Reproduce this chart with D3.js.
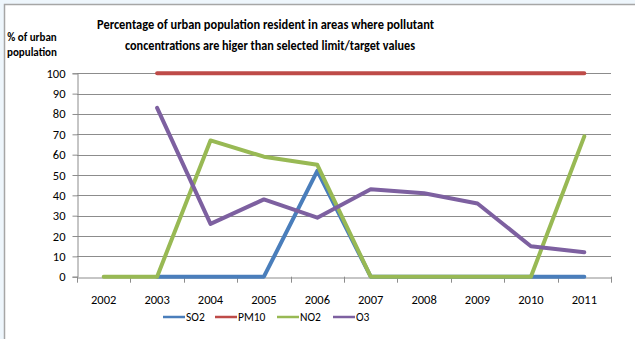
<!DOCTYPE html>
<html>
<head>
<meta charset="utf-8">
<script src="https://cdn.jsdelivr.net/npm/d3@7"></script>
<style>
  body { margin: 0; background: #eef6fc; }
  svg { display: block; }
</style>
</head>
<body>
<div id="chart"></div>
<script>
// chart data
const years = ['2002', '2003', '2004', '2005', '2006', '2007', '2008', '2009', '2010', '2011'];
const so2  = [null, 0, 0, 0, 52, 0, 0, 0, 0, 0];
const pm10 = [null, 100, 100, 100, 100, 100, 100, 100, 100, 100];
const no2  = [0, 0, 67, 59, 55, 0, 0, 0, 0, 69];
const o3   = [null, 83, 26, 38, 29, 43, 41, 36, 15, 12];
const yTicks = [0, 10, 20, 30, 40, 50, 60, 70, 80, 90, 100];

const series = [
  { name: 'SO2',  values: so2,  color: '#4a7ebb' },
  { name: 'PM10', values: pm10, color: '#be4b48' },
  { name: 'NO2',  values: no2,  color: '#98b954' },
  { name: 'O3',   values: o3,   color: '#7d60a0' }
];

const W = 635, H = 339;
const font = "Carlito, Calibri, 'Liberation Sans Narrow', 'Liberation Sans', sans-serif";

const svg = d3.select('#chart').append('svg')
  .attr('width', W)
  .attr('height', H);

// frame
svg.append('rect')
  .attr('x', 4.5).attr('y', 4.5)
  .attr('width', W).attr('height', H)
  .attr('fill', '#fff')
  .attr('stroke', '#a6a6a6')
  .attr('stroke-width', 1.5);

const plot = { left: 77, right: 611, top: 73.3, bottom: 276.7 };

const x = d3.scaleBand().domain(years).range([plot.left, plot.right]);
const y = d3.scaleLinear().domain([0, 100]).range([plot.bottom, plot.top]);

// gridlines
svg.append('g')
  .selectAll('line')
  .data(yTicks.filter(d => d > 0))
  .join('line')
  .attr('x1', plot.left).attr('x2', plot.right)
  .attr('y1', d => Math.round(y(d)) + 0.5).attr('y2', d => Math.round(y(d)) + 0.5)
  .attr('stroke', '#8c8c8c')
  .attr('stroke-width', 1);

// y axis
const yAxis = svg.append('g')
  .attr('transform', `translate(${plot.left + 0.5},0)`)
  .call(d3.axisLeft(y).tickValues(yTicks).tickSize(5).tickPadding(7));
yAxis.select('.domain').attr('stroke', '#8c8c8c');
yAxis.selectAll('.tick line').attr('stroke', '#8c8c8c');
yAxis.selectAll('text')
  .attr('font-family', font).attr('font-size', 12.5).attr('fill', '#000');

// x axis
const xAxis = svg.append('g')
  .attr('transform', `translate(0,${Math.round(plot.bottom) + 0.5})`)
  .call(d3.axisBottom(x).tickSize(0).tickPadding(18));
xAxis.select('.domain').attr('stroke', '#8c8c8c');
xAxis.selectAll('text')
  .attr('font-family', font).attr('font-size', 12.5).attr('fill', '#000');

// x tick marks at band edges
svg.append('g')
  .selectAll('line')
  .data(years.concat(['end']))
  .join('line')
  .attr('x1', (d, i) => Math.round(plot.left + i * x.bandwidth()) + 0.5)
  .attr('x2', (d, i) => Math.round(plot.left + i * x.bandwidth()) + 0.5)
  .attr('y1', plot.bottom)
  .attr('y2', plot.bottom + 6)
  .attr('stroke', '#8c8c8c');

// lines
const line = d3.line()
  .defined(d => d.v !== null)
  .x(d => x(d.year) + x.bandwidth() / 2)
  .y(d => y(d.v));

svg.append('g')
  .selectAll('path')
  .data(series)
  .join('path')
  .attr('d', s => line(years.map((yr, i) => ({ year: yr, v: s.values[i] }))))
  .attr('fill', 'none')
  .attr('stroke', s => s.color)
  .attr('stroke-width', 4)
  .attr('stroke-linejoin', 'round')
  .attr('stroke-linecap', 'round');

// title
const title = svg.append('text')
  .attr('font-family', font)
  .attr('font-size', 13.5)
  .attr('font-weight', 'bold')
  .attr('text-anchor', 'middle');
title.append('tspan').attr('x', 265.5).attr('y', 29)
  .attr('textLength', 337).attr('lengthAdjust', 'spacingAndGlyphs')
  .text('Percentage of urban population resident in areas where pollutant');
title.append('tspan').attr('x', 270).attr('y', 50)
  .attr('textLength', 290).attr('lengthAdjust', 'spacingAndGlyphs')
  .text('concentrations are higer  than selected limit/target values');

// y axis title
const ytitle = svg.append('text')
  .attr('font-family', font)
  .attr('font-size', 11)
  .attr('font-weight', 'bold')
  .attr('text-anchor', 'middle');
ytitle.append('tspan').attr('x', 32).attr('y', 41).text('% of urban');
ytitle.append('tspan').attr('x', 32).attr('y', 56).text('population');

// legend
const legendX = [163, 215, 277, 333];
const legend = svg.append('g')
  .selectAll('g')
  .data(series)
  .join('g')
  .attr('transform', (d, i) => `translate(${legendX[i]},321)`);
legend.append('line')
  .attr('x1', 0).attr('x2', 22)
  .attr('y1', -4).attr('y2', -4)
  .attr('stroke', d => d.color)
  .attr('stroke-width', 2.5);
legend.append('text')
  .attr('x', 23).attr('y', 0)
  .attr('font-family', font)
  .attr('font-size', 11.5)
  .text(d => d.name);
</script>
</body>
</html>
